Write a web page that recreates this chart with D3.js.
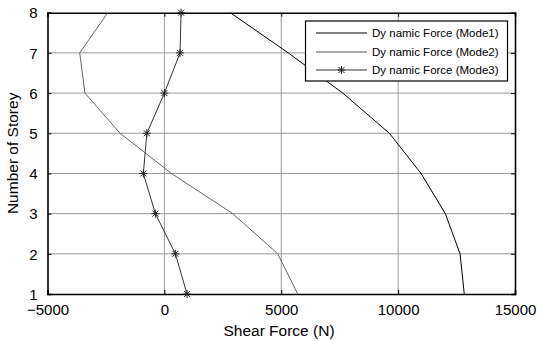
<!DOCTYPE html>
<html><head><meta charset="utf-8">
<script src="https://cdn.jsdelivr.net/npm/d3@7/dist/d3.min.js"></script>
<style>body{margin:0;background:#fff}svg{display:block}</style>
</head><body>
<script>
const storeys = [1,2,3,4,5,6,7,8];
const mode1 = [12830,12650,12020,10980,9625,7630,5300,2820];
const mode2 = [5705,4850,2925,300,-1895,-3400,-3620,-2420];
const mode3 = [970,470,-385,-900,-750,0,670,715];
const xTicks = [-5000,0,5000,10000,15000];
const yTicks = [1,2,3,4,5,6,7,8];
const seriesNames = ["Dy namic Force (Mode1)","Dy namic Force (Mode2)","Dy namic Force (Mode3)"];

const W=537,H=341;
const m={l:47.5,r:22,t:12.7,b:47};
const svg=d3.select("body").append("svg").attr("width",W).attr("height",H);
const x=d3.scaleLinear().domain([-5000,15000]).range([m.l,W-m.r]);
const y=d3.scaleLinear().domain([1,8]).range([H-m.b,m.t]);
const font="Liberation Sans, Arial, sans-serif";

// grid
const g=svg.append("g");
g.selectAll(".gx").data(xTicks.slice(1,-1)).join("line")
 .attr("x1",d=>x(d)).attr("x2",d=>x(d)).attr("y1",y(1)).attr("y2",y(8))
 .attr("stroke","#9a9a9a").attr("stroke-width",1);
g.selectAll(".gy").data(yTicks.slice(1,-1)).join("line")
 .attr("y1",d=>y(d)).attr("y2",d=>y(d)).attr("x1",x(-5000)).attr("x2",x(15000))
 .attr("stroke","#9a9a9a").attr("stroke-width",1);

// axes
const tl=-4;
const xa=svg.append("g").attr("transform",`translate(0,${y(1)})`)
 .call(d3.axisBottom(x).tickValues(xTicks).tickSize(tl).tickPadding(9).tickFormat(d3.format("d")));
const xt=svg.append("g").attr("transform",`translate(0,${y(8)})`)
 .call(d3.axisTop(x).tickValues(xTicks).tickSize(tl).tickFormat(""));
const ya=svg.append("g").attr("transform",`translate(${x(-5000)},0)`)
 .call(d3.axisLeft(y).tickValues(yTicks).tickSize(tl).tickPadding(10).tickFormat(d3.format("d")));
const yr=svg.append("g").attr("transform",`translate(${x(15000)},0)`)
 .call(d3.axisRight(y).tickValues(yTicks).tickSize(tl).tickFormat(""));
[xa,xt,ya,yr].forEach(a=>{
  a.select(".domain").attr("stroke","#000").attr("stroke-width",1.6);
  a.selectAll(".tick line").attr("stroke","#000");
  a.selectAll("text").attr("font-family",font).attr("font-size",15).attr("fill","#000");
});
ya.selectAll("text").attr("dy","0.35em");
xa.selectAll("text").attr("dy","0.8em");

// lines
const line=d3.line().x(d=>x(d[0])).y(d=>y(d[1]));
const d1=storeys.map((s,i)=>[mode1[i],s]);
const d2=storeys.map((s,i)=>[mode2[i],s]);
const d3d=storeys.map((s,i)=>[mode3[i],s]);
svg.append("path").datum(d1).attr("d",line).attr("fill","none").attr("stroke","#000").attr("stroke-width",1);
svg.append("path").datum(d2).attr("d",line).attr("fill","none").attr("stroke","#555").attr("stroke-width",0.9);
svg.append("path").datum(d3d).attr("d",line).attr("fill","none").attr("stroke","#333").attr("stroke-width",1);

function star(sel,cx,cy){
  const r=4, r2=3;
  const gg=sel.append("g").attr("transform",`translate(${cx},${cy})`).attr("stroke","#222").attr("stroke-width",1);
  gg.append("line").attr("x1",-r).attr("x2",r).attr("y1",0).attr("y2",0);
  gg.append("line").attr("x1",0).attr("x2",0).attr("y1",-r).attr("y2",r);
  gg.append("line").attr("x1",-r2).attr("x2",r2).attr("y1",-r2).attr("y2",r2);
  gg.append("line").attr("x1",-r2).attr("x2",r2).attr("y1",r2).attr("y2",-r2);
}
d3d.forEach(d=>star(svg,x(d[0]),y(d[1])));

// legend
const lg=svg.append("g");
lg.append("rect").attr("x",305.5).attr("y",21).attr("width",202).attr("height",60)
 .attr("fill","#fff").attr("stroke","#000").attr("stroke-width",1.2);
const ly=[33,52,70];
const cols=["#000","#555","#333"];
seriesNames.forEach((n,i)=>{
  lg.append("line").attr("x1",316).attr("x2",367).attr("y1",ly[i]).attr("y2",ly[i]).attr("stroke",cols[i]).attr("stroke-width",1);
  lg.append("text").attr("x",372).attr("y",ly[i]).attr("dy","0.35em").attr("font-family",font).attr("font-size",11.5).text(n);
});
star(lg,341.5,ly[2]);

// titles
svg.append("text").attr("x",279).attr("y",336).attr("text-anchor","middle")
 .attr("font-family",font).attr("font-size",15.5).text("Shear Force (N)");
svg.append("text").attr("transform",`translate(18,${(y(1)+y(8))/2}) rotate(-90)`).attr("text-anchor","middle")
 .attr("font-family",font).attr("font-size",15.5).text("Number of Storey");
</script>
</body></html>
